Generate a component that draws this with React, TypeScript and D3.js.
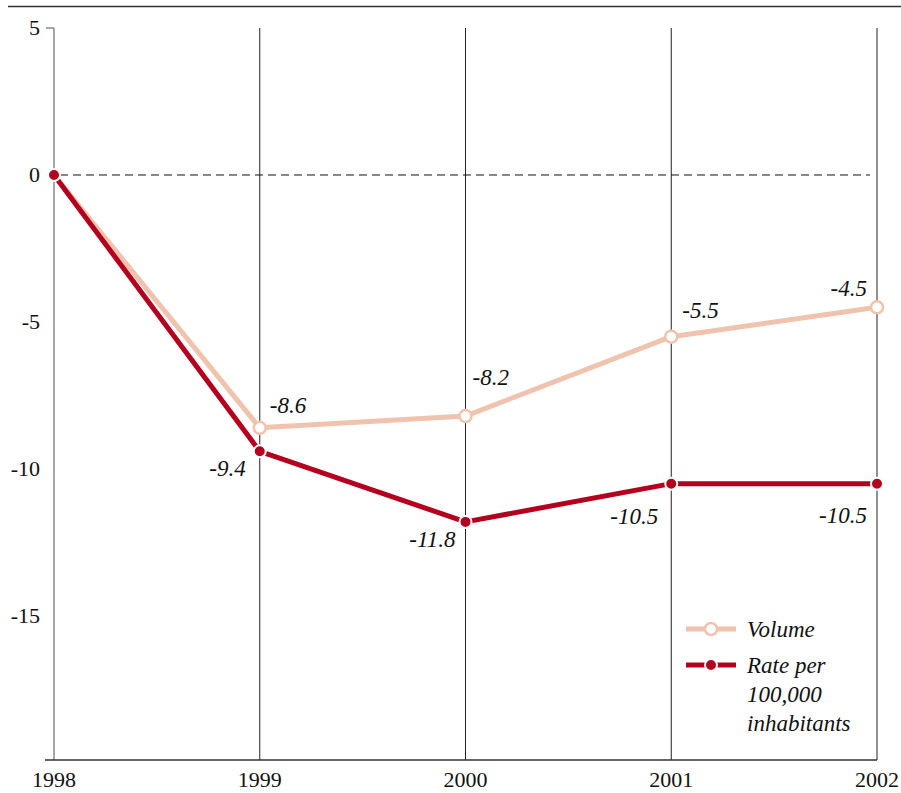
import React from "react";
import * as d3 from "d3";

const years = [1998, 1999, 2000, 2001, 2002];
const volume = [0, -8.6, -8.2, -5.5, -4.5];
const rate = [0, -9.4, -11.8, -10.5, -10.5];
const yTicks = [5, 0, -5, -10, -15];
const volumeLabels = ["", "-8.6", "-8.2", "-5.5", "-4.5"];
const rateLabels = ["", "-9.4", "-11.8", "-10.5", "-10.5"];

const PINK = "#efc3ad";
const RED = "#b3001f";
const FONT = `"Liberation Serif"`;

export default function App() {
  const W = 901, H = 793;
  const x = d3.scalePoint<number>().domain(years).range([54, 877]);
  const y = d3.scaleLinear().domain([-19.9, 5]).range([760, 28]);
  const line = d3.line<number>().x((_, i) => x(years[i])!).y((d) => y(d));

  const volOff: [number, number, string][] = [[0, 0, "start"], [10, -15, "start"], [7, -31, "start"], [11, -19, "start"], [-10, -11, "end"]];
  const rateOff: [number, number, string][] = [[0, 0, "start"], [-14, 25, "end"], [-10, 25, "end"], [-13, 40, "end"], [-10, 39, "end"]];

  const tstyle = { fontFamily: FONT };
  const istyle = { fontFamily: FONT, fontStyle: "italic" };

  return (
    <svg width={W} height={H} style={{ position: "absolute", left: 0, top: 0 }}>
      <line x1={8} x2={901} y1={6.5} y2={6.5} stroke="#333" strokeWidth={1.5} />
      {years.slice(1).map((yr) => (
        <line key={yr} x1={x(yr)} x2={x(yr)} y1={y(5)} y2={y(-19.9)} stroke="#222" strokeWidth={1} />
      ))}
      <line x1={54} x2={54} y1={y(5)} y2={y(-19.9)} stroke="#777" strokeWidth={1.3} />
      <line x1={46} x2={54} y1={y(5)} y2={y(5)} stroke="#777" strokeWidth={1.3} />
      <line x1={45} x2={877} y1={760} y2={760} stroke="#333" strokeWidth={1.3} />
      {yTicks.map((t) => (
        <text key={t} x={40} y={y(t) + 7} textAnchor="end" fontSize={22} fill="#111" style={tstyle}>{String(t)}</text>
      ))}
      {years.map((yr) => (
        <text key={yr} x={x(yr)} y={787} textAnchor="middle" fontSize={22} fill="#111" style={tstyle}>{String(yr)}</text>
      ))}
      <line x1={60} x2={870} y1={y(0)} y2={y(0)} stroke="#111" strokeWidth={1} strokeDasharray="8,5" />
      <path d={line(volume)!} fill="none" stroke={PINK} strokeWidth={5} strokeLinejoin="round" />
      <path d={line(rate)!} fill="none" stroke={RED} strokeWidth={5} strokeLinejoin="round" />
      {volume.slice(1).map((v, i) => (
        <circle key={"v" + i} cx={x(years[i + 1])} cy={y(v)} r={6} fill="#fff" stroke={PINK} strokeWidth={2.5} />
      ))}
      {rate.map((v, i) => (
        <circle key={"r" + i} cx={x(years[i])} cy={y(v)} r={6} fill={RED} stroke="#fff" strokeWidth={2} />
      ))}
      {volumeLabels.map((l, i) => l && (
        <text key={"vl" + i} x={x(years[i])! + volOff[i][0]} y={y(volume[i]) + volOff[i][1]} textAnchor={volOff[i][2] as any} fontSize={23} fill="#111" style={istyle as any}>{l}</text>
      ))}
      {rateLabels.map((l, i) => l && (
        <text key={"rl" + i} x={x(years[i])! + rateOff[i][0]} y={y(rate[i]) + rateOff[i][1]} textAnchor={rateOff[i][2] as any} fontSize={23} fill="#111" style={istyle as any}>{l}</text>
      ))}
      <line x1={686} x2={736} y1={629} y2={629} stroke={PINK} strokeWidth={5} />
      <circle cx={711} cy={629} r={6} fill="#fff" stroke={PINK} strokeWidth={2.5} />
      <text x={747} y={637} fontSize={23} fill="#111" style={istyle as any}>Volume</text>
      <line x1={686} x2={736} y1={665} y2={665} stroke={RED} strokeWidth={5} />
      <circle cx={711} cy={665} r={6} fill={RED} stroke="#fff" strokeWidth={2} />
      <text x={747} y={673} fontSize={23} fill="#111" style={istyle as any}>Rate per</text>
      <text x={747} y={702} fontSize={23} fill="#111" style={istyle as any}>100,000</text>
      <text x={747} y={731} fontSize={23} fill="#111" style={istyle as any}>inhabitants</text>
    </svg>
  );
}
